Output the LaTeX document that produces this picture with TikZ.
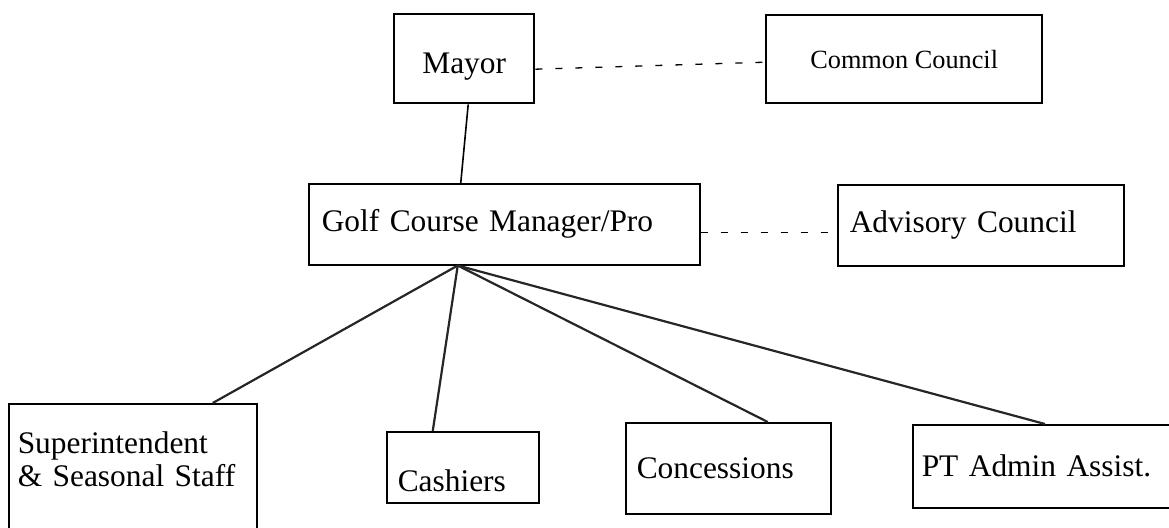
\documentclass[tikz,border=0pt]{standalone}
\usepackage{fontspec}
\setmainfont{Liberation Serif}
\usetikzlibrary{positioning}
\newcommand{\chartfont}{\fontsize{31.4}{33}\selectfont}
\newcommand{\councilfont}{\fontsize{26.3}{30}\selectfont}
\tikzset{
    % Box styles
    box/.style={rectangle, draw, line width=1.5pt, inner ysep=0pt, anchor=north west, font=\chartfont},
    heavy box/.style={box, line width=2.4pt, align=center},
    left box/.style={box, align=left},
    % Connector styles
    link/.style={line width=1.6pt},
    fan link/.style={line width=2.2pt, black!85},
    dotted link/.style={line width=1.3pt, dash pattern=on 7pt off 13pt},
}

\begin{document}
\begin{tikzpicture}[x=1pt, y=-1pt]
    \useasboundingbox (0,0) rectangle (1169,527);
    \clip (0,0) rectangle (1169,527);

    % Top level
    \node[heavy box, minimum width=140pt, minimum height=89pt, text height=29pt, text depth=0pt] (mayor) at (393,13) {Mayor};
    \node[heavy box, minimum width=276pt, minimum height=88pt, font=\councilfont] (council) at (765,14) {Common Council};

    % Manager row
    \node[left box, minimum height=81pt, inner xsep=13pt, text width=365pt] (manager) at (308,183) {Golf Course Manager/Pro};
    \node[left box, minimum height=81pt, inner xsep=12pt, text width=262pt] (advisory) at (837,184) {Advisory Council};

    % Staff row
    \node[left box, minimum height=160pt, inner xsep=9pt, text width=230pt, text height=22pt, text depth=82pt] (super) at (8,403) {Superintendent\\\& Seasonal Staff};
    \node[left box, minimum height=71pt, inner xsep=11pt, text width=130pt, text height=49pt, text depth=0pt] (cashiers) at (386,431) {Cashiers};
    \node[left box, minimum height=91pt, inner xsep=11pt, text width=183pt] (concessions) at (625,422) {Concessions};
    \node[left box, minimum height=83pt, inner xsep=9pt, text width=252pt] (ptadmin) at (912,424) {PT Admin Assist.};

    % Reporting lines
    \draw[link] ([xshift=4pt]mayor.south) -- ([xshift=-43.5pt]manager.north);
    \draw[dotted link] ([yshift=-10.5pt]mayor.east) -- ([yshift=-3pt]council.west);
    \draw[dotted link] ([yshift=-8.5pt]manager.east) -- ([yshift=-7.5pt]advisory.west);

    \coordinate (hub) at ([xshift=-46.5pt]manager.south);
    \draw[fan link] (hub) -- ([xshift=80pt]super.north);
    \draw[fan link] (hub) -- ([xshift=-30pt]cashiers.north);
    \draw[fan link] (hub) -- ([xshift=39.5pt]concessions.north);
    \draw[fan link] (hub) -- ([xshift=133pt]ptadmin.north west);
\end{tikzpicture}
\end{document}
